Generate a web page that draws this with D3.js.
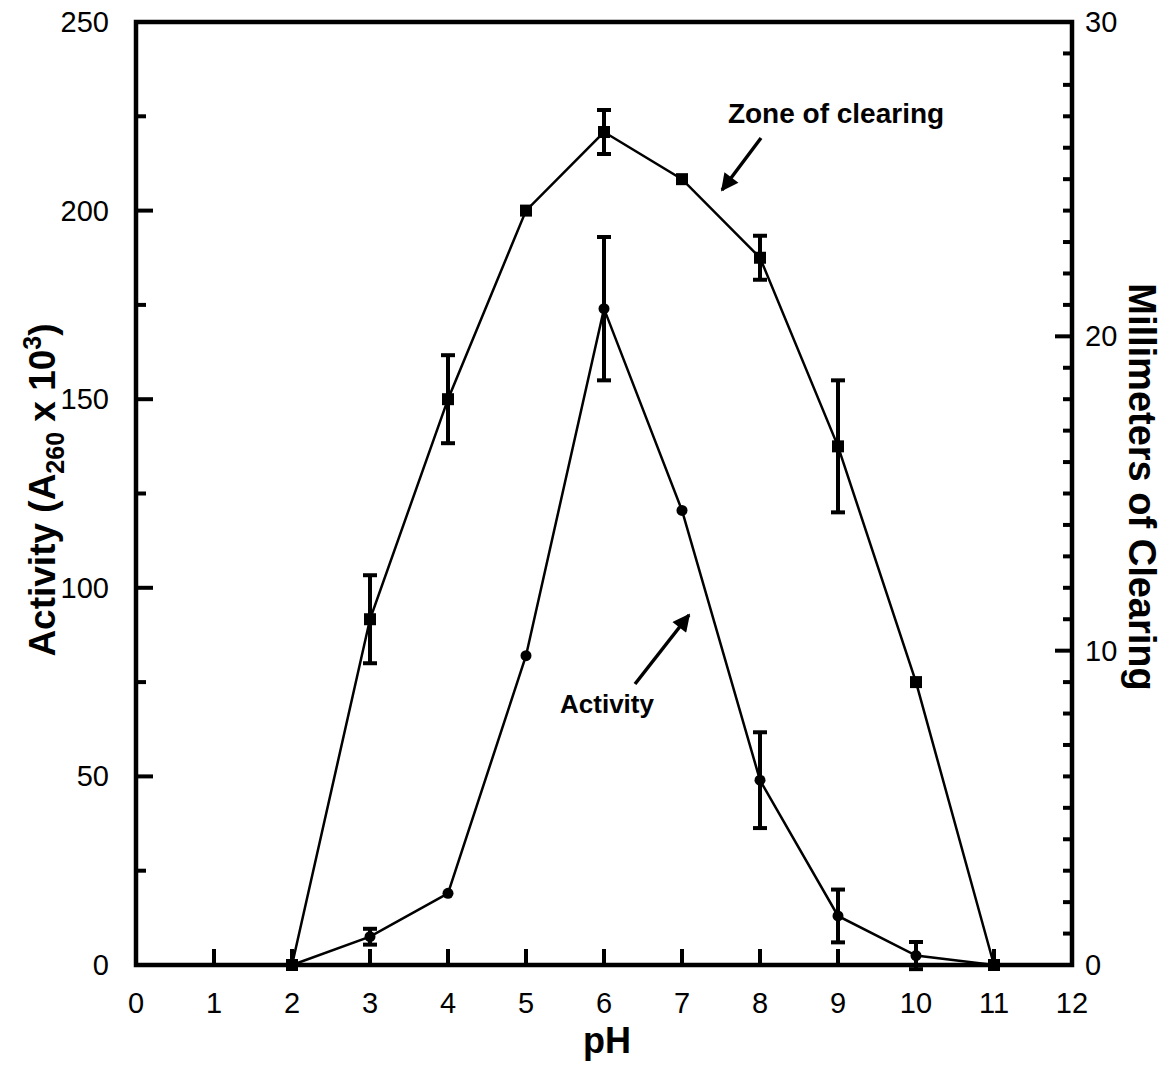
<!DOCTYPE html>
<html>
<head>
<meta charset="utf-8">
<script src="https://cdn.jsdelivr.net/npm/d3@7"></script>
<style>
  html, body { margin: 0; padding: 0; background: #fff; }
  svg { display: block; font-family: "Liberation Sans", Arial, sans-serif; }
</style>
</head>
<body>
<svg id="chart" width="1176" height="1068"></svg>
<script>
// pH values shared by both series
const pH = [2, 3, 4, 5, 6, 7, 8, 9, 10, 11];

// Zone of clearing (mm), plotted against the right axis
const clearing    = [0, 11.0, 18.0, 24.0, 26.5, 25.0, 22.5, 16.5, 9.0, 0];
const clearingErr = [0, 1.4, 1.4, 0, 0.7, 0, 0.7, 2.1, 0, 0];

// Activity (A260 x 10^3), plotted against the left axis
const activity    = [0, 7.5, 19, 82, 174, 120.5, 49, 13, 2.5, 0];
const activityErr = [0, 2.1, 0, 0, 19, 0, 12.7, 7, 3.6, 0];

const xTicks = [0, 1, 2, 3, 4, 5, 6, 7, 8, 9, 10, 11, 12];
const yLeftTicks = [0, 50, 100, 150, 200, 250];
const yRightTicks = [0, 10, 20, 30];

const svg = d3.select("#chart");
const m = { left: 136, right: 1072, top: 22, bottom: 965 };

const x = d3.scaleLinear().domain([0, 12]).range([m.left, m.right]);
const yL = d3.scaleLinear().domain([0, 250]).range([m.bottom, m.top]);
const yR = d3.scaleLinear().domain([0, 30]).range([m.bottom, m.top]);

const axisW = 4.5;

// tick marks (drawn inward)
const g = svg.append("g");
// bottom axis ticks
g.selectAll(".xt").data(xTicks).join("line")
  .attr("x1", d => x(d)).attr("x2", d => x(d))
  .attr("y1", m.bottom).attr("y2", m.bottom - 16)
  .attr("stroke", "#000").attr("stroke-width", 4);
// left axis ticks: major every 50, minor every 25
g.selectAll(".yl").data(d3.range(0, 251, 25)).join("line")
  .attr("x1", m.left).attr("x2", d => m.left + (d % 50 === 0 ? 17 : 10))
  .attr("y1", d => yL(d)).attr("y2", d => yL(d))
  .attr("stroke", "#000").attr("stroke-width", 4);
// right axis ticks: major every 10, minor every 1
g.selectAll(".yr").data(d3.range(0, 31, 1)).join("line")
  .attr("x1", m.right).attr("x2", d => m.right - (d % 10 === 0 ? 17 : 9))
  .attr("y1", d => yR(d)).attr("y2", d => yR(d))
  .attr("stroke", "#000").attr("stroke-width", 4);

// frame
svg.append("path")
  .attr("d", `M${m.left},${m.bottom}V${m.top}H${m.right}V${m.bottom}Z`)
  .attr("fill", "none").attr("stroke", "#000").attr("stroke-width", axisW)
  .attr("stroke-linejoin", "miter");

// tick labels
const tickFont = 29;
svg.selectAll(".xl").data(xTicks).join("text")
  .attr("x", d => x(d)).attr("y", 1013)
  .attr("text-anchor", "middle").attr("font-size", tickFont)
  .text(d => d);
svg.selectAll(".yll").data(yLeftTicks).join("text")
  .attr("x", 109).attr("y", d => yL(d) + 10)
  .attr("text-anchor", "end").attr("font-size", tickFont)
  .text(d => d);
svg.selectAll(".yrl").data(yRightTicks).join("text")
  .attr("x", 1085).attr("y", d => yR(d) + 10)
  .attr("text-anchor", "start").attr("font-size", tickFont)
  .text(d => d);

// axis titles
svg.append("text")
  .attr("x", 607).attr("y", 1053)
  .attr("text-anchor", "middle").attr("font-size", 36).attr("font-weight", "bold")
  .text("pH");

const lt = svg.append("text")
  .attr("transform", "translate(55,490) rotate(-90)")
  .attr("text-anchor", "middle").attr("font-size", 37).attr("font-weight", "bold");
lt.append("tspan").text("Activity (A");
lt.append("tspan").attr("font-size", 25).attr("dy", 9).text("260");
lt.append("tspan").attr("dy", -9).text(" x 10");
lt.append("tspan").attr("font-size", 25).attr("dy", -14).text("3");
lt.append("tspan").attr("dy", 14).text(")");

svg.append("text")
  .attr("transform", "translate(1129,487) rotate(90)")
  .attr("text-anchor", "middle").attr("font-size", 38).attr("font-weight", "bold")
  .text("Millimeters of Clearing");

// series
const clearData = pH.map((p, i) => ({ x: p, y: clearing[i], e: clearingErr[i] }));
const actData = pH.map((p, i) => ({ x: p, y: activity[i], e: activityErr[i] }));

function drawErr(data, ys) {
  const eg = svg.append("g").attr("stroke", "#000").attr("stroke-width", 4);
  data.filter(d => d.e > 0).forEach(d => {
    const cx = x(d.x), t = ys(d.y + d.e), b = ys(d.y - d.e);
    eg.append("line").attr("x1", cx).attr("x2", cx).attr("y1", t).attr("y2", b);
    eg.append("line").attr("x1", cx - 7).attr("x2", cx + 7).attr("y1", t).attr("y2", t);
    eg.append("line").attr("x1", cx - 7).attr("x2", cx + 7).attr("y1", b).attr("y2", b);
  });
}

drawErr(clearData, yR);
drawErr(actData, yL);

svg.append("path").datum(clearData)
  .attr("d", d3.line().x(d => x(d.x)).y(d => yR(d.y)))
  .attr("fill", "none").attr("stroke", "#000").attr("stroke-width", 2.5);
svg.append("path").datum(actData)
  .attr("d", d3.line().x(d => x(d.x)).y(d => yL(d.y)))
  .attr("fill", "none").attr("stroke", "#000").attr("stroke-width", 2.5);

svg.selectAll(".sq").data(clearData).join("rect")
  .attr("x", d => x(d.x) - 6).attr("y", d => yR(d.y) - 6)
  .attr("width", 12).attr("height", 12).attr("fill", "#000");
svg.selectAll(".ci").data(actData).join("circle")
  .attr("cx", d => x(d.x)).attr("cy", d => yL(d.y)).attr("r", 5.5)
  .attr("fill", "#000");

// annotations with arrows
const defs = svg.append("defs");
defs.append("marker").attr("id", "arrow")
  .attr("viewBox", "0 0 10 10").attr("refX", 9).attr("refY", 5)
  .attr("markerWidth", 6).attr("markerHeight", 5).attr("orient", "auto")
  .attr("markerUnits", "strokeWidth")
  .append("path").attr("d", "M0,0L10,5L0,10Z").attr("fill", "#000");

svg.append("text")
  .attr("x", 836).attr("y", 123)
  .attr("text-anchor", "middle").attr("font-size", 28).attr("font-weight", "bold")
  .text("Zone of clearing");
svg.append("line")
  .attr("x1", 761).attr("y1", 138).attr("x2", 722).attr("y2", 190)
  .attr("stroke", "#000").attr("stroke-width", 3.5).attr("marker-end", "url(#arrow)");

svg.append("text")
  .attr("x", 607).attr("y", 713)
  .attr("text-anchor", "middle").attr("font-size", 26).attr("font-weight", "bold")
  .text("Activity");
svg.append("line")
  .attr("x1", 635).attr("y1", 684).attr("x2", 689).attr("y2", 615)
  .attr("stroke", "#000").attr("stroke-width", 3.5).attr("marker-end", "url(#arrow)");
</script>
</body>
</html>
